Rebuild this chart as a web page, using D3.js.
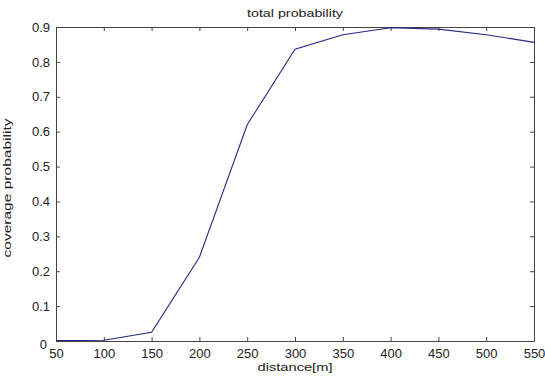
<!DOCTYPE html>
<html>
<head>
<meta charset="utf-8">
<script src="https://cdn.jsdelivr.net/npm/d3@7"></script>
<style>
  body { margin: 0; background: #fff; }
  text { font-family: "Liberation Sans", Arial, sans-serif; fill: #222; }
</style>
</head>
<body>
<svg id="chart"></svg>
<script>
const distances = [50, 100, 150, 200, 250, 300, 350, 400, 450, 500, 550];
const coverage = [0.001, 0.002, 0.025, 0.24, 0.62, 0.836, 0.878, 0.898, 0.894, 0.878, 0.856];
const xTicks = [50, 100, 150, 200, 250, 300, 350, 400, 450, 500, 550];
const yTicks = [0, 0.1, 0.2, 0.3, 0.4, 0.5, 0.6, 0.7, 0.8, 0.9];

const margin = { top: 27, right: 11, bottom: 39, left: 56 };
const totalW = 545, totalH = 380;
const width = totalW - margin.left - margin.right;
const height = totalH - margin.top - margin.bottom;

const svg = d3.select("#chart").attr("width", totalW).attr("height", totalH);
const g = svg.append("g").attr("transform", `translate(${margin.left},${margin.top})`);

const x = d3.scaleLinear().domain([50, 550]).range([0, width]);
const y = d3.scaleLinear().domain([0, 0.9]).range([height, 0]);

const axisColor = "#444";

// box axes, ticks inward on all four sides
const axBottom = g.append("g").attr("transform", `translate(0,${height})`)
  .call(d3.axisBottom(x).tickValues(xTicks).tickSizeInner(-4).tickSizeOuter(0).tickPadding(8));
const axTop = g.append("g")
  .call(d3.axisTop(x).tickValues(xTicks).tickSizeInner(-4).tickSizeOuter(0).tickFormat(""));
const axLeft = g.append("g")
  .call(d3.axisLeft(y).tickValues(yTicks).tickSizeInner(-4).tickSizeOuter(0).tickPadding(6).tickFormat(d => d === 0 ? "0" : d3.format(".1f")(d)));
const axRight = g.append("g").attr("transform", `translate(${width},0)`)
  .call(d3.axisRight(y).tickValues(yTicks).tickSizeInner(-4).tickSizeOuter(0).tickFormat(""));

[axBottom, axTop, axLeft, axRight].forEach(a => {
  a.select(".domain").attr("stroke", axisColor);
  a.selectAll(".tick line").attr("stroke", axisColor);
  a.selectAll(".tick text").attr("fill", "#333").style("font-size", "13px");
});

// MATLAB puts the "0" label a little lower and to the left
axLeft.selectAll(".tick text").filter(d => d === 0).attr("dx", -3).attr("dy", "0.55em");

const line = d3.line()
  .x((d, i) => x(distances[i]))
  .y(d => y(d));

g.append("path")
  .datum(coverage)
  .attr("d", line)
  .attr("fill", "none")
  .attr("stroke", "#262684")
  .attr("stroke-width", 1.1);

svg.append("text")
  .attr("x", margin.left + width / 2)
  .attr("y", 17)
  .attr("text-anchor", "middle")
  .attr("textLength", 96)
  .attr("lengthAdjust", "spacingAndGlyphs")
  .style("font-size", "11px")
  .text("total probability");

svg.append("text")
  .attr("x", margin.left + width / 2)
  .attr("y", 371)
  .attr("text-anchor", "middle")
  .attr("textLength", 75)
  .attr("lengthAdjust", "spacingAndGlyphs")
  .style("font-size", "11.5px")
  .text("distance[m]");

svg.append("text")
  .attr("transform", `translate(11,${margin.top + height / 2 + 4}) rotate(-90)`)
  .attr("text-anchor", "middle")
  .attr("textLength", 139)
  .attr("lengthAdjust", "spacingAndGlyphs")
  .style("font-size", "10.5px")
  .text("coverage probability");
</script>
</body>
</html>
